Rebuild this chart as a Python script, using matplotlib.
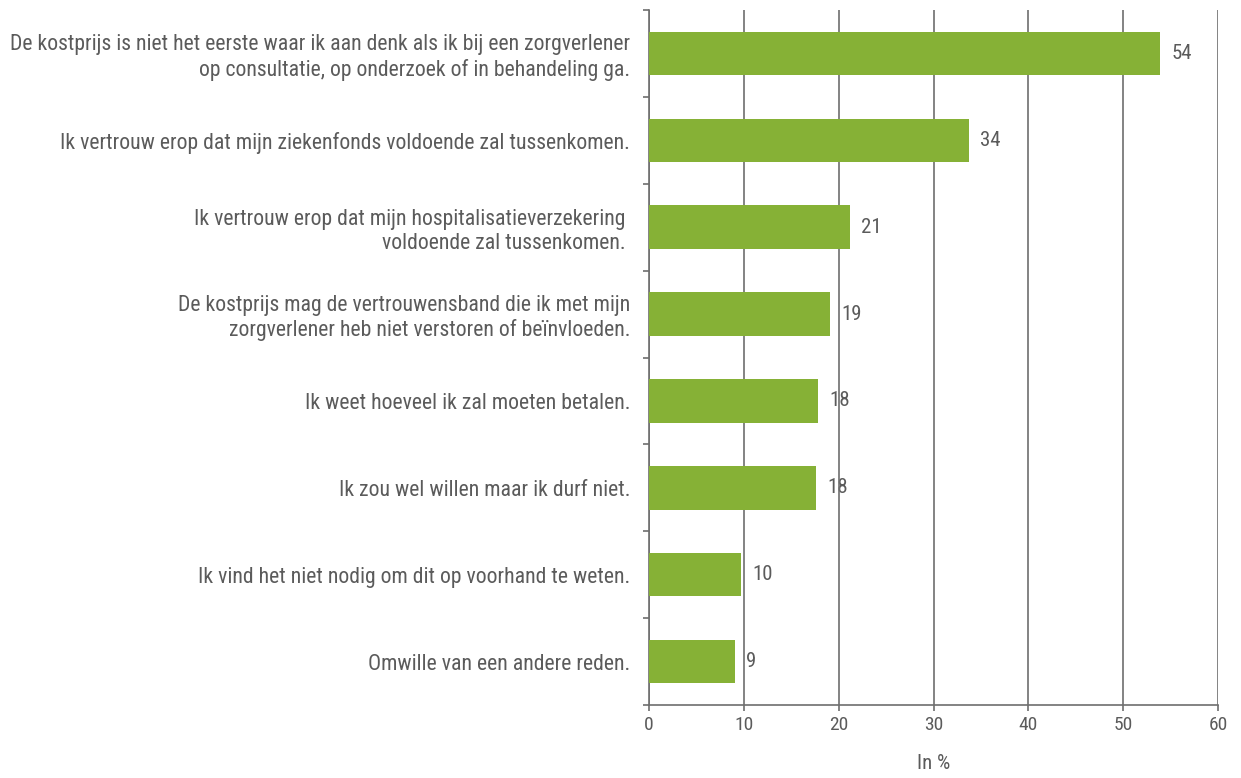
import matplotlib
matplotlib.use("Agg")
import matplotlib.pyplot as plt
from matplotlib import font_manager

categories = [
    "De kostprijs is niet het eerste waar ik aan denk als ik bij een zorgverlener\nop consultatie, op onderzoek of in behandeling ga.",
    "Ik vertrouw erop dat mijn ziekenfonds voldoende zal tussenkomen.",
    "Ik vertrouw erop dat mijn hospitalisatieverzekering \nvoldoende zal tussenkomen. ",
    "De kostprijs mag de vertrouwensband die ik met mijn\nzorgverlener heb niet verstoren of beïnvloeden.",
    "Ik weet hoeveel ik zal moeten betalen.",
    "Ik zou wel willen maar ik durf niet.",
    "Ik vind het niet nodig om dit op voorhand te weten.",
    "Omwille van een andere reden.",
]
values = [53.9, 33.7, 21.2, 19.1, 17.8, 17.6, 9.7, 9.1]
xticks = [0, 10, 20, 30, 40, 50, 60]
xlabel = "In %"

names = {f.name for f in font_manager.fontManager.ttflist}
family = [f for f in ["Roboto Condensed", "Liberation Sans Narrow", "Roboto"] if f in names] + ["DejaVu Sans"]
plt.rcParams["font.family"] = family

bar_color = "#86b136"
line_color = "#6e6e6e"
text_color = "#5b5b5b"

fig = plt.figure(figsize=(12.41, 7.78), dpi=100)
ax = fig.add_axes([649 / 1241, 1 - 705 / 778, (1218 - 649) / 1241, (705 - 10) / 778])

ypos = list(range(len(categories)))
ax.barh(ypos, values, height=0.5, color=bar_color, zorder=3)

for y, v in zip(ypos, values):
    ax.annotate(f"{v:.0f}", xy=(v, y), xytext=(8, 0), textcoords="offset points",
                va="center", ha="left", fontsize=15, color=text_color, zorder=2)

ax.set_xlim(0, 60)
ax.set_ylim(len(categories) - 0.5, -0.5)
ax.set_xticks(xticks)
ax.set_xticklabels([str(t) for t in xticks])
ax.set_yticks(ypos)
ax.set_yticklabels(categories, fontsize=15.7, color=text_color, linespacing=1.2)
ax.set_yticks([i - 0.5 for i in range(len(categories) + 1)], minor=True)

ax.tick_params(axis="y", which="major", length=0, pad=13.5)
ax.tick_params(axis="y", which="minor", length=4, width=1.2, color=line_color, direction="out")
ax.tick_params(axis="x", length=4, width=1.2, color=line_color, labelsize=14,
               labelcolor=text_color, pad=4)

for s in ["top", "right"]:
    ax.spines[s].set_visible(False)
for s in ["left", "bottom"]:
    ax.spines[s].set_color(line_color)
    ax.spines[s].set_linewidth(1.2)

ax.set_axisbelow(False)
ax.grid(axis="x", color=line_color, linewidth=1.2)
for gl in ax.get_xgridlines():
    gl.set_zorder(2.5)

ax.set_xlabel(xlabel, fontsize=15, color=text_color, labelpad=14)

fig.savefig("out.png", dpi=100, facecolor="white")
